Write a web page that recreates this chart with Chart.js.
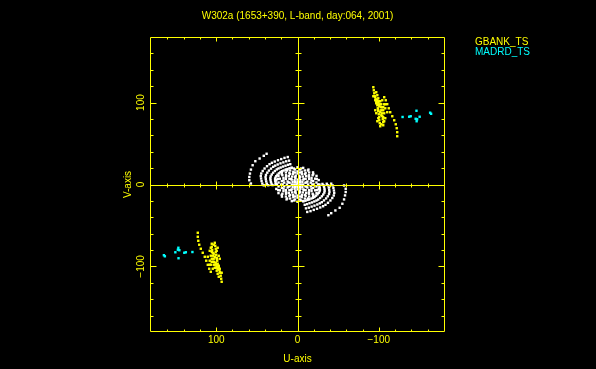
<!DOCTYPE html>
<html>
<head>
<meta charset="utf-8">
<script src="https://cdn.jsdelivr.net/npm/chart.js@4.4.0/dist/chart.umd.min.js"></script>
<style>
html, body { margin: 0; padding: 0; background: #000; }
canvas { display: block; }
</style>
</head>
<body>
<canvas id="uvChart" width="596" height="369"></canvas>
<script>
const chartTitle = 'W302a (1653+390, L-band, day:064, 2001)';
const uAxisTitle = 'U-axis';
const vAxisTitle = 'V-axis';
const seriesNames = ['GBANK_TS', 'MADRD_TS'];
const majorTicks = [100, 0, -100];
const minorTicks = [-160, -140, -120, -80, -60, -40, -20, 20, 40, 60, 80, 120, 140, 160];
const uLimits = [-181.5, 181.5];
const vLimits = [-180, 180];

// all the other baselines (white), u/v pairs
const otherBaselines = [
  [1.5,0],[0,1.5],[-1.5,0],[0,-1.5],
  [4,0],[2.8,2.8],[0,3.5],[-2.8,2.8],[-4,0],[-2.8,-2.8],[0,-3.5],[2.8,-2.8],
  [7,0],[6,3],[3.5,5.2],[0,6],[-3.5,5.2],[-6,3],[-7,0],[-6,-3],[-3.5,-5.2],[0,-6],[3.5,-5.2],[6,-3],
  [9.7,2.2],[7.1,6],[2.6,8.2],[-2.6,8.2],[-7.1,6],[-9.7,2.2],[-9.7,-2.2],[-7.1,-6],[-2.6,-8.2],[2.6,-8.2],[7.1,-6],[9.7,-2.2],
  [11.1,2.5],[8.1,6.7],[3,9.2],[-3,9.2],[-8.1,6.7],[-11.1,2.5],[-11.1,-2.5],[-8.1,-6.7],[-3,-9.2],[3,-9.2],[8.1,-6.7],[11.1,-2.5],
  [13,0],[12.2,3.7],[10,7],[6.5,9.6],[2.2,10.8],[-2.2,10.8],[-6.5,9.6],[-10,7],[-12.2,3.7],
  [-13,0],[-12.2,-3.7],[-10,-7],[-6.5,-9.6],[-2.2,-10.8],[2.2,-10.8],[6.5,-9.6],[10,-7],[12.2,-3.7],
  [16.3,2.3],[14.3,6.8],[10.6,10.3],[5.6,12.7],[0,13.5],[-5.6,12.7],[-10.6,10.3],[-14.3,6.8],[-16.3,2.3],
  [-16.3,-2.3],[-14.3,-6.8],[-10.6,-10.3],[-5.6,-12.7],[0,-13.5],[5.6,-12.7],[10.6,-10.3],[14.3,-6.8],[16.3,-2.3],
  [18.3,0],[17.2,5.1],[14,9.5],[9.2,12.8],[3.2,14.6],[-3.2,14.6],[-9.2,12.8],[-14,9.5],[-17.2,5.1],
  [-18.3,0],[-17.2,-5.1],[-14,-9.5],[-9.2,-12.8],[-3.2,-14.6],[3.2,-14.6],[9.2,-12.8],[14,-9.5],[17.2,-5.1],
  [20,0],[19.3,4.1],[17.3,8],[14.1,11.3],[10,13.9],[5.2,15.5],[0,16],[-5.2,15.5],[-10,13.9],[-14.1,11.3],[-17.3,8],[-19.3,4.1],
  [-20,0],[-19.3,-4.1],[-17.3,-8],[-14.1,-11.3],[-10,-13.9],[-5.2,-15.5],[0,-16],[5.2,-15.5],[10,-13.9],[14.1,-11.3],[17.3,-8],[19.3,-4.1],
  [23.3,2.4],[21.7,7.1],[18.6,11.3],[14.3,14.7],[9,17.1],[3.1,18.3],[-3.1,18.3],[-9,17.1],[-14.3,14.7],[-18.6,11.3],[-21.7,7.1],[-23.3,2.4],
  [-23.3,-2.4],[-21.7,-7.1],[-18.6,-11.3],[-14.3,-14.7],[-9,-17.1],[-3.1,-18.3],[3.1,-18.3],[9,-17.1],[14.3,-14.7],[18.6,-11.3],[21.7,-7.1],[23.3,-2.4],
  [25.3,0],[23.8,6.8],[19.4,12.7],[12.7,17.1],[4.4,19.5],[-4.4,19.5],[-12.7,17.1],[-19.4,12.7],[-23.8,6.8],
  [-25.3,0],[-23.8,-6.8],[-19.4,-12.7],[-12.7,-17.1],[-4.4,-19.5],[4.4,-19.5],[12.7,-17.1],[19.4,-12.7],[23.8,-6.8],
  [27,0],[26.1,5.4],[23.4,10.5],[19.1,14.8],[13.5,18.2],[7,20.3],[0,21],[-7,20.3],[-13.5,18.2],[-19.1,14.8],[-23.4,10.5],[-26.1,5.4],
  [-27,0],[-26.1,-5.4],[-23.4,-10.5],[-19.1,-14.8],[-13.5,-18.2],[-7,-20.3],[0,-21],[7,-20.3],[13.5,-18.2],[19.1,-14.8],[23.4,-10.5],[26.1,-5.4],
  [12,33.5],[16,32.5],[20,31],[24,29.6],[28,28],[31.5,26.5],[34.4,24.8],[37.5,22.3],[40.5,19.5],[42.8,16.5],[44.6,13.4],[45.2,10.3],[44.8,7.3],[44.2,4.2],[43.3,1.2],[41.5,-1],
  [10.4,29.1],[13.9,28.3],[17.4,27],[20.9,25.8],[24.4,24.4],[27.4,23],[29.9,21.6],[32.6,19.4],[35.2,17],[37.2,14.4],[38.8,11.7],[39.3,9],[39,6.4],[38.5,3.7],[37.7,1],[36,-0.9],
  [8.9,24.8],[11.8,24],[14.8,22.9],[17.8,21.9],[20.7,20.7],[23.3,19.6],[25.5,18.4],[27.8,16.5],[30,14.4],[31.7,12.2],[33,9.9],[33.4,7.6],[33.2,5.4],[32.7,3.1],[32,0.9],[30.7,-0.7],
  [7.3,20.4],[9.8,19.8],[12.2,18.9],[14.6,18.1],[17.1,17.1],[19.2,16.2],[21,15.1],[22.9,13.6],[24.7,11.9],[26.1,10.1],[27.2,8.2],[27.6,6.3],[27.3,4.5],[27,2.6],[26.4,0.7],
  [-12,-33.5],[-16,-32.5],[-20,-31],[-24,-29.6],[-28,-28],[-31.5,-26.5],[-34.4,-24.8],[-37.5,-22.3],[-40.5,-19.5],[-42.8,-16.5],[-44.6,-13.4],[-45.2,-10.3],[-44.8,-7.3],[-44.2,-4.2],[-43.3,-1.2],[-41.5,1],
  [-10.4,-29.1],[-13.9,-28.3],[-17.4,-27],[-20.9,-25.8],[-24.4,-24.4],[-27.4,-23],[-29.9,-21.6],[-32.6,-19.4],[-35.2,-17],[-37.2,-14.4],[-38.8,-11.7],[-39.3,-9],[-39,-6.4],[-38.5,-3.7],[-37.7,-1],[-36,0.9],
  [-8.9,-24.8],[-11.8,-24],[-14.8,-22.9],[-17.8,-21.9],[-20.7,-20.7],[-23.3,-19.6],[-25.5,-18.4],[-27.8,-16.5],[-30,-14.4],[-31.7,-12.2],[-33,-9.9],[-33.4,-7.6],[-33.2,-5.4],[-32.7,-3.1],[-32,-0.9],[-30.7,0.7],
  [-7.3,-20.4],[-9.8,-19.8],[-12.2,-18.9],[-14.6,-18.1],[-17.1,-17.1],[-19.2,-16.2],[-21,-15.1],[-22.9,-13.6],[-24.7,-11.9],[-26.1,-10.1],[-27.2,-8.2],[-27.6,-6.3],[-27.3,-4.5],[-27,-2.6],[-26.4,-0.7],
  [38,37.5],[41.5,35],[46.6,31.7],[51.9,28.4],[55.2,23.5],[57.3,18.2],[58.5,13.3],[59.3,9.2],[59.3,5.2],[57.3,1.2],
  [-38,-37.5],[-41.5,-35],[-46.6,-31.7],[-51.9,-28.4],[-55.2,-23.5],[-57.3,-18.2],[-58.5,-13.3],[-59.3,-9.2],[-59.3,-5.2],[-57.3,-1.2]
];

const gbankPoints = [
  [-93.3,118.7],[-93.9,115],[-94.5,111.3],[-95.1,107.7],[-96.3,104],[-96.9,100.4],[-98.2,96.7],[-98.8,93],[-99.4,89.4],[-100,85.7],[-100.6,82.1],[-100.6,78.4],[-101.2,74.8],[-101.8,71.1],
  [-96.9,112.6],[-98.2,109],[-99.4,105.2],[-100.6,101.6],[-101.8,97.9],[-102.5,94.3],[-103.1,90.6],[-103.7,86.9],[-104.3,83.3],[-104.9,79.6],[-105.5,76],[-105.5,72.3],
  [-95.7,102.8],[-96.9,99.1],[-99.4,97.9],[-100.6,95.5],[-103.1,97.9],[-104.3,94.3],[-99.4,90.6],[-101.8,88.2],[-105.5,90.6],[-106.7,86.9],
  [-93.3,107.7],[-95.7,106.5],[-98.2,102.8],[-99.4,100.4],[-101.8,101.6],[-104.3,102.8],[-106.7,97.9],[-105.5,94.3],[-108,93],[-103.1,84.5],
  [-105.5,82.1],[-108,80.9],[-99.4,80.9],[-98.2,77.2],[-103.1,73.5],[-106.7,77.2],[-95.7,90.6],[-96.9,87],[-108,97.9],[-110.4,88.2],
  [-106.7,106.5],[-108.6,102.8],[-110.4,98],[-112.3,93],[-114.1,88.2],[-116.6,83.3],[-119,78.4],[-120.9,73.5],[-122.1,68.7],[-122.7,63.8],[-122.7,58.9],
  [93.3,-118.7],[93.9,-115],[94.5,-111.3],[95.1,-107.7],[96.3,-104],[96.9,-100.4],[98.2,-96.7],[98.8,-93],[99.4,-89.4],[100,-85.7],[100.6,-82.1],[100.6,-78.4],[101.2,-74.8],[101.8,-71.1],
  [96.9,-112.6],[98.2,-109],[99.4,-105.2],[100.6,-101.6],[101.8,-97.9],[102.5,-94.3],[103.1,-90.6],[103.7,-86.9],[104.3,-83.3],[104.9,-79.6],[105.5,-76],[105.5,-72.3],
  [95.7,-102.8],[96.9,-99.1],[99.4,-97.9],[100.6,-95.5],[103.1,-97.9],[104.3,-94.3],[99.4,-90.6],[101.8,-88.2],[105.5,-90.6],[106.7,-86.9],
  [93.3,-107.7],[95.7,-106.5],[98.2,-102.8],[99.4,-100.4],[101.8,-101.6],[104.3,-102.8],[106.7,-97.9],[105.5,-94.3],[108,-93],[103.1,-84.5],
  [105.5,-82.1],[108,-80.9],[99.4,-80.9],[98.2,-77.2],[103.1,-73.5],[106.7,-77.2],[95.7,-90.6],[96.9,-87],[108,-97.9],[110.4,-88.2],
  [106.7,-106.5],[108.6,-102.8],[110.4,-98],[112.3,-93],[114.1,-88.2],[116.6,-83.3],[119,-78.4],[120.9,-73.5],[122.1,-68.7],[122.7,-63.8],[122.7,-58.9]
];

const madrdPoints = [
  [-129.3,82.4],[-137.4,82.7],[-139.3,83.3],[-146.4,90],[-145.4,80.2],[-146.6,77.2],[-147.2,79.6],[-150.3,82.7],[-163.2,87.6],[-164.4,86.3],
  [129.3,-82.4],[137.4,-82.7],[139.3,-83.3],[146.4,-90],[145.4,-80.2],[146.6,-77.2],[147.2,-79.6],[150.3,-82.7],[163.2,-87.6],[164.4,-86.3]
];

const YELLOW = '#ffff00';
const FONT = '10px "Liberation Sans", Arial, sans-serif';

function toXY(list) {
  return list.map(p => ({ x: p[0], y: p[1] }));
}

// PGPLOT-style frame: box, centre axes, inward ticks, labels
const frame = {
  id: 'frame',
  afterDatasetsDraw(chart) {
    const { ctx, chartArea: a, scales } = chart;
    const xs = scales.x, ys = scales.y;
    const x0 = Math.round(xs.getPixelForValue(0)) + 0.5;
    const y0 = Math.round(ys.getPixelForValue(0)) + 0.5;
    const L = Math.round(a.left) + 0.5, R = Math.round(a.right) - 0.5;
    const T = Math.round(a.top) + 0.5, B = Math.round(a.bottom) - 0.5;
    ctx.save();
    ctx.strokeStyle = YELLOW;
    ctx.lineWidth = 1;
    ctx.beginPath();
    ctx.rect(L, T, R - L, B - T);
    ctx.moveTo(L, y0); ctx.lineTo(R, y0);
    ctx.moveTo(x0, T); ctx.lineTo(x0, B);
    const all = minorTicks.concat(majorTicks);
    all.forEach(val => {
      const major = majorTicks.includes(val);
      const tx = 2 * (major ? 2 : 1);
      const ty = 3 * (major ? 2 : 1);
      const px = Math.round(xs.getPixelForValue(val)) + 0.5;
      const py = Math.round(ys.getPixelForValue(val)) + 0.5;
      ctx.moveTo(px, B); ctx.lineTo(px, B - tx);
      ctx.moveTo(px, T); ctx.lineTo(px, T + tx);
      ctx.moveTo(L, py); ctx.lineTo(L + ty, py);
      ctx.moveTo(R, py); ctx.lineTo(R - ty, py);
      if (val !== 0) {
        ctx.moveTo(px, y0 - tx); ctx.lineTo(px, y0 + tx);
        ctx.moveTo(x0 - ty, py); ctx.lineTo(x0 + ty, py);
      }
    });
    ctx.stroke();

    ctx.fillStyle = YELLOW;
    ctx.font = FONT;
    ctx.textAlign = 'center';
    ctx.textBaseline = 'middle';
    ctx.fillText(chartTitle, (a.left + a.right) / 2, 16.5);
    majorTicks.forEach(val => {
      ctx.fillText(String(val).replace('-', '\u2212'), xs.getPixelForValue(val), a.bottom + 8);
    });
    ctx.fillText(uAxisTitle, (a.left + a.right) / 2, a.bottom + 27);
    majorTicks.forEach(val => {
      ctx.save();
      ctx.translate(a.left - 8.5, ys.getPixelForValue(val));
      ctx.rotate(-Math.PI / 2);
      ctx.fillText(String(val).replace('-', '\u2212'), 0, 0);
      ctx.restore();
    });
    ctx.save();
    ctx.translate(a.left - 22, (a.top + a.bottom) / 2);
    ctx.rotate(-Math.PI / 2);
    ctx.fillText(vAxisTitle, 0, 0);
    ctx.restore();

    ctx.textAlign = 'left';
    chart.data.datasets.forEach(ds => {
      const idx = seriesNames.indexOf(ds.label);
      if (idx < 0) return;
      ctx.fillStyle = ds.backgroundColor;
      ctx.fillText(ds.label, a.right + 30, 42 + idx * 10);
    });
    ctx.restore();
  }
};

const pointStyle = { pointStyle: 'rect', pointRadius: 1.7, borderWidth: 0, pointHoverRadius: 1.7 };

new Chart(document.getElementById('uvChart'), {
  type: 'scatter',
  data: {
    datasets: [
      Object.assign({ label: seriesNames[1], data: toXY(madrdPoints), backgroundColor: '#00ffff' }, pointStyle),
      Object.assign({ label: seriesNames[0], data: toXY(gbankPoints), backgroundColor: '#ffff00' }, pointStyle),
      Object.assign({ label: 'other', data: toXY(otherBaselines), backgroundColor: '#ffffff' }, pointStyle)
    ]
  },
  options: {
    responsive: false,
    animation: false,
    layout: { padding: { left: 150, right: 151, top: 37, bottom: 37 } },
    plugins: { legend: { display: false }, tooltip: { enabled: false } },
    scales: {
      x: {
        type: 'linear', reverse: true, min: uLimits[0], max: uLimits[1],
        ticks: { display: false }, grid: { display: false, drawTicks: false }, border: { display: false }
      },
      y: {
        type: 'linear', min: vLimits[0], max: vLimits[1],
        ticks: { display: false }, grid: { display: false, drawTicks: false }, border: { display: false }
      }
    }
  },
  plugins: [frame]
});
</script>
</body>
</html>
